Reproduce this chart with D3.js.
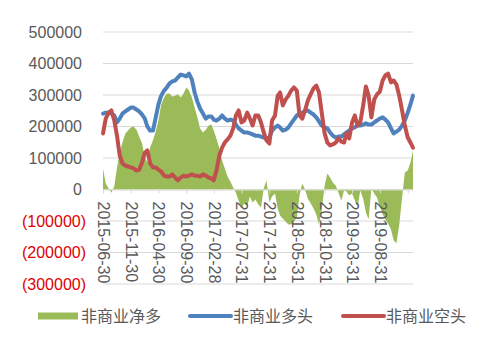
<!DOCTYPE html>
<html><head><meta charset="utf-8">
<script src="https://cdn.jsdelivr.net/npm/d3@7"></script>
<style>
html,body{margin:0;padding:0;background:#fff;}
svg{display:block;}
</style></head>
<body>
<svg id="chart" width="493" height="346"></svg>
<script>
const dates = [
"2015-06-30","2015-07-15","2015-07-31","2015-08-15","2015-08-31","2015-09-15","2015-09-30","2015-10-15","2015-10-31","2015-11-15","2015-11-30","2015-12-15","2015-12-31",
"2016-01-15","2016-01-31","2016-02-15","2016-02-29","2016-03-15","2016-03-31","2016-04-15","2016-04-30","2016-05-15","2016-05-31","2016-06-15","2016-06-30","2016-07-15","2016-07-31","2016-08-15","2016-08-31","2016-09-15","2016-09-30","2016-10-15","2016-10-31","2016-11-15","2016-11-30","2016-12-15","2016-12-31",
"2017-01-15","2017-01-31","2017-02-15","2017-02-28","2017-03-15","2017-03-31","2017-04-15","2017-04-30","2017-05-15","2017-05-31","2017-06-15","2017-06-30","2017-07-15","2017-07-31","2017-08-15","2017-08-31","2017-09-15","2017-09-30","2017-10-15","2017-10-31","2017-11-15","2017-11-30","2017-12-15","2017-12-31",
"2018-01-15","2018-01-31","2018-02-15","2018-02-28","2018-03-15","2018-03-31","2018-04-15","2018-04-30","2018-05-15","2018-05-31","2018-06-15","2018-06-30","2018-07-15","2018-07-31","2018-08-15","2018-08-31","2018-09-15","2018-09-30","2018-10-15","2018-10-31","2018-11-15","2018-11-30","2018-12-15","2018-12-31",
"2019-01-15","2019-01-31","2019-02-15","2019-02-28","2019-03-15","2019-03-31","2019-04-15","2019-04-30","2019-05-15","2019-05-31","2019-06-15","2019-06-30","2019-07-15","2019-07-31","2019-08-15","2019-08-31","2019-09-15","2019-09-30","2019-10-15","2019-10-31","2019-11-15","2019-11-30","2019-12-15","2019-12-31",
"2020-01-15","2020-01-31","2020-02-15","2020-02-29"];

// 非商业多头 (thousand contracts)
const longK = [241,244,244,241,235,213,225,241,248,254,260,260,254,248,238,225,200,187,187,229,270,298,314,324,337,343,346,356,365,362,359,368,349,308,279,257,241,225,232,232,222,219,225,235,225,219,222,219,206,194,187,181,181,178,175,171,171,168,165,162,165,187,197,203,197,187,190,197,210,222,235,241,244,248,251,244,238,229,216,203,197,194,181,171,165,168,168,175,181,187,194,197,203,203,206,210,206,206,213,219,225,229,222,213,194,178,184,190,203,219,244,270,298];
// 非商业空头
const shortK = [178,225,244,251,219,171,108,83,76,73,70,67,60,63,86,117,124,83,70,70,63,57,44,41,41,48,38,29,38,44,41,44,48,44,44,41,48,44,38,35,29,60,108,133,149,159,171,194,235,251,213,219,244,225,203,235,235,213,181,156,146,219,235,298,308,267,286,298,314,324,314,235,225,251,283,302,321,330,308,244,178,149,140,143,149,162,152,149,178,162,213,235,203,213,267,327,298,229,286,302,311,346,362,368,340,346,333,298,251,203,165,149,133];
// 非商业净多
const netK = [67,19,3,-10,10,70,117,149,178,187,197,200,190,168,146,102,86,133,156,184,219,270,292,305,305,295,298,302,292,305,324,314,292,260,229,194,181,190,203,206,187,162,130,92,67,41,25,6,-10,-35,-60,-44,-54,-22,-41,-32,-48,-57,3,29,-41,-22,-13,-60,-83,-92,-102,-111,-111,-102,-89,-19,19,0,-29,-44,-60,-79,-111,-67,13,51,38,22,13,-10,-35,-3,-6,-19,-13,-35,-57,-3,-29,-73,-95,3,-13,-25,-54,-79,-95,-108,-127,-162,-171,-114,-25,54,60,86,124];

const yTicks = [500000,400000,300000,200000,100000,0,-100000,-200000,-300000];
const xTickLabels = ["2015-06-30","2015-11-30","2016-04-30","2016-09-30","2017-02-28","2017-07-31","2017-12-31","2018-05-31","2018-10-31","2019-03-31","2019-08-31"];
const seriesNames = ["非商业净多","非商业多头","非商业空头"];
const colors = ["#9bbb59","#4f81bd","#c0504d"];

const parse = d3.timeParse("%Y-%m-%d");
const data = dates.map((d,i)=>({date:parse(d), net:netK[i]*1000, long:longK[i]*1000, short:shortK[i]*1000}));

const svg = d3.select("#chart");
const x = d3.scaleTime().domain([parse("2015-06-30"), parse("2020-02-29")]).range([103, 413]);
const y = d3.scaleLinear().domain([-300000, 500000]).range([284, 32]);

// gridlines
svg.append("g").selectAll("line").data(yTicks.filter(v=>v!==0)).join("line")
  .attr("x1",103).attr("x2",413).attr("y1",d=>y(d)).attr("y2",d=>y(d))
  .attr("stroke","#d9d9d9").attr("stroke-width",1);

// net area
svg.append("path").datum(data)
  .attr("fill",colors[0])
  .attr("d", d3.area().x(d=>x(d.date)).y0(y(0)).y1(d=>y(d.net)));

// x axis at zero
const tickDates = xTickLabels.map(parse).concat([parse("2020-01-31")]);
const xAxis = d3.axisBottom(x).tickValues(tickDates).tickSize(4)
  .tickFormat(d=>{const s=d3.timeFormat("%Y-%m-%d")(d); return xTickLabels.includes(s)?s:"";});
const gx = svg.append("g").attr("transform",`translate(0,${y(0)})`).call(xAxis);
gx.select(".domain").attr("stroke","#d9d9d9").attr("d","M103,0.5H413");
gx.selectAll(".tick line").attr("stroke","#d9d9d9");
gx.selectAll(".tick text")
  .attr("transform","rotate(90)")
  .attr("x",12).attr("y",0).attr("dy","0.35em")
  .attr("text-anchor","start")
  .attr("fill","#595959")
  .style("font-family","'Liberation Sans', Arial, sans-serif")
  .style("font-size","16px");

// y labels
svg.append("g").selectAll("text").data(yTicks).join("text")
  .attr("x",d=>d<0?86:82).attr("y",d=>y(d)).attr("dy","0.35em")
  .attr("text-anchor","end")
  .attr("fill",d=>d<0?"#e00000":"#595959")
  .style("font-family","'Liberation Sans', Arial, sans-serif")
  .style("font-size","16px")
  .text(d=>d<0?`(${-d})`:`${d}`);

// lines
const lineLong = d3.line().x(d=>x(d.date)).y(d=>y(d.long));
const lineShort = d3.line().x(d=>x(d.date)).y(d=>y(d.short));
svg.append("path").datum(data).attr("fill","none").attr("stroke",colors[1]).attr("stroke-width",4)
  .attr("stroke-linejoin","round").attr("stroke-linecap","round").attr("d",lineLong);
svg.append("path").datum(data).attr("fill","none").attr("stroke",colors[2]).attr("stroke-width",4)
  .attr("stroke-linejoin","round").attr("stroke-linecap","round").attr("d",lineShort);

// legend
const leg = svg.append("g").style("font-family","'Noto Sans CJK SC', sans-serif").style("font-size","16px");
const legX = [38, 190, 343];
seriesNames.forEach((n,i)=>{
  const g = leg.append("g").attr("transform",`translate(${legX[i]},316)`);
  if(i===0){
    g.append("rect").attr("x",0).attr("y",-3.5).attr("width",40).attr("height",7).attr("fill",colors[0]);
  } else {
    g.append("line").attr("x1",0).attr("x2",41).attr("y1",0).attr("y2",0)
      .attr("stroke",colors[i]).attr("stroke-width",4).attr("stroke-linecap","round");
  }
  g.append("text").attr("x",43).attr("y",0).attr("dy","0.35em").attr("fill","#595959").text(n);
});
</script>
</body></html>
